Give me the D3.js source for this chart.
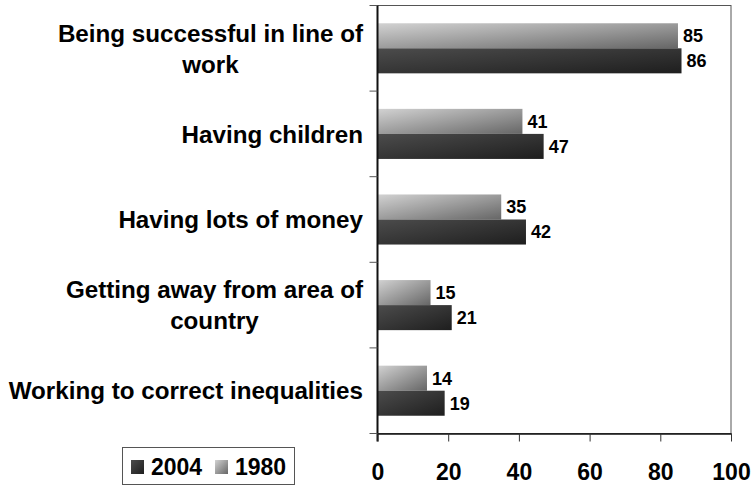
<!DOCTYPE html>
<html lang="en">
<head>
<meta charset="utf-8">
<title>chart</title>
<script src="https://d3js.org/d3.v7.min.js"></script>
<style>
  body { margin: 0; background: #fff; }
  text { font-family: "Liberation Sans", Arial, sans-serif; font-weight: bold; fill: #000; }
  .cat { font-size: 24.2px; }
  .val { font-size: 18px; }
  .tick-x { font-size: 23px; }
  .leg { font-size: 23px; }
</style>
</head>
<body>
<svg id="chart" width="753" height="485"></svg>
<script>
// data
var categories = [
  ["Being successful in line of", "work"],
  ["Having children"],
  ["Having lots of money"],
  ["Getting away from area of", "country"],
  ["Working to correct inequalities"]
];
var series = ["1980", "2004"];
var values1980 = [85, 41, 35, 15, 14];
var values2004 = [86, 47, 42, 21, 19];
var xTicks = [0, 20, 40, 60, 80, 100];

var svg = d3.select("#chart");

var pLeft = 377.5, pRight = 731, pTop = 5.5, pBottom = 433.5;

var x = d3.scaleLinear().domain([0, 100]).range([pLeft, pRight]);
var y = d3.scaleBand().domain(d3.range(categories.length)).range([pTop, pBottom])
  .paddingInner(0.415).paddingOuter(0.2075);
var ys = d3.scaleBand().domain(series).range([0, y.bandwidth()]);
var bandStep = (pBottom - pTop) / categories.length;

// gradients
var defs = svg.append("defs");
function grad(id, c1, c2) {
  var g = defs.append("linearGradient").attr("id", id)
    .attr("x1", 0).attr("y1", 0).attr("x2", 1).attr("y2", 1);
  g.append("stop").attr("offset", "0%").attr("stop-color", c1);
  g.append("stop").attr("offset", "100%").attr("stop-color", c2);
}
grad("g1980", "#d2d2d2", "#666666");
grad("g2004", "#4c4c4c", "#1e1e1e");
var fill = { "1980": "url(#g1980)", "2004": "url(#g2004)" };

// plot frame
svg.append("rect")
  .attr("x", pLeft).attr("y", pTop)
  .attr("width", pRight - pLeft).attr("height", pBottom - pTop)
  .attr("fill", "none").attr("stroke", "#555").attr("stroke-width", 1);

// bars
var rows = categories.map(function(c, i) {
  return { i: i, vals: [{ s: "1980", v: values1980[i] }, { s: "2004", v: values2004[i] }] };
});

var g = svg.selectAll(".row").data(rows).enter().append("g")
  .attr("transform", function(d) { return "translate(0," + y(d.i) + ")"; });

g.selectAll("rect").data(function(d) { return d.vals; }).enter().append("rect")
  .attr("x", x(0))
  .attr("y", function(d) { return ys(d.s); })
  .attr("width", function(d) { return x(d.v) - x(0); })
  .attr("height", ys.bandwidth())
  .attr("fill", function(d) { return fill[d.s]; });

g.selectAll(".val").data(function(d) { return d.vals; }).enter().append("text")
  .attr("class", "val")
  .attr("x", function(d) { return x(d.v) + 5; })
  .attr("y", function(d) { return ys(d.s) + ys.bandwidth() / 2; })
  .attr("dy", "0.36em")
  .text(function(d) { return d.v; });

// y axis line and ticks
svg.append("line").attr("x1", pLeft).attr("x2", pLeft).attr("y1", pTop).attr("y2", pBottom + 8)
  .attr("stroke", "#111").attr("stroke-width", 2);
d3.range(categories.length + 1).forEach(function(k) {
  var yy = pTop + k * bandStep;
  svg.append("line").attr("x1", pLeft - 8).attr("x2", pLeft).attr("y1", yy).attr("y2", yy)
    .attr("stroke", "#555").attr("stroke-width", 1);
});

// x axis
var xAxis = svg.append("g").attr("transform", "translate(0," + pBottom + ")")
  .call(d3.axisBottom(x).tickValues(xTicks).tickSize(8).tickSizeOuter(0).tickPadding(22));
xAxis.attr("font-family", null).attr("font-size", null);
xAxis.select(".domain").attr("stroke", "#111").attr("stroke-width", 1.5);
xAxis.selectAll(".tick line").attr("stroke", "#333");
xAxis.selectAll(".tick text").attr("class", "tick-x").attr("fill", "#000");

// category labels
var labelRight = 363;
categories.forEach(function(lines, i) {
  var cy = y(i) + y.bandwidth() / 2;
  var t = svg.append("text").attr("class", "cat").attr("text-anchor", "middle");
  lines.forEach(function(line, j) {
    t.append("tspan").attr("x", 0)
      .attr("y", cy + (j - (lines.length - 1) / 2) * 31)
      .attr("dy", "0.36em").text(line);
  });
  var w = d3.max(t.selectAll("tspan").nodes(), function(n) { return n.getComputedTextLength(); });
  t.selectAll("tspan").attr("x", labelRight - w / 2);
});

// legend
var leg = svg.append("g");
leg.append("rect").attr("x", 122.5).attr("y", 447.5).attr("width", 172).attr("height", 37)
  .attr("fill", "#fff").attr("stroke", "#555");
var legItems = [{ s: "2004", x: 131 }, { s: "1980", x: 215 }];
legItems.forEach(function(d) {
  leg.append("rect").attr("x", d.x).attr("y", 460).attr("width", 13).attr("height", 14)
    .attr("fill", fill[d.s]);
  leg.append("text").attr("class", "leg").attr("x", d.x + 20).attr("y", 475).text(d.s);
});
</script>
</body>
</html>
